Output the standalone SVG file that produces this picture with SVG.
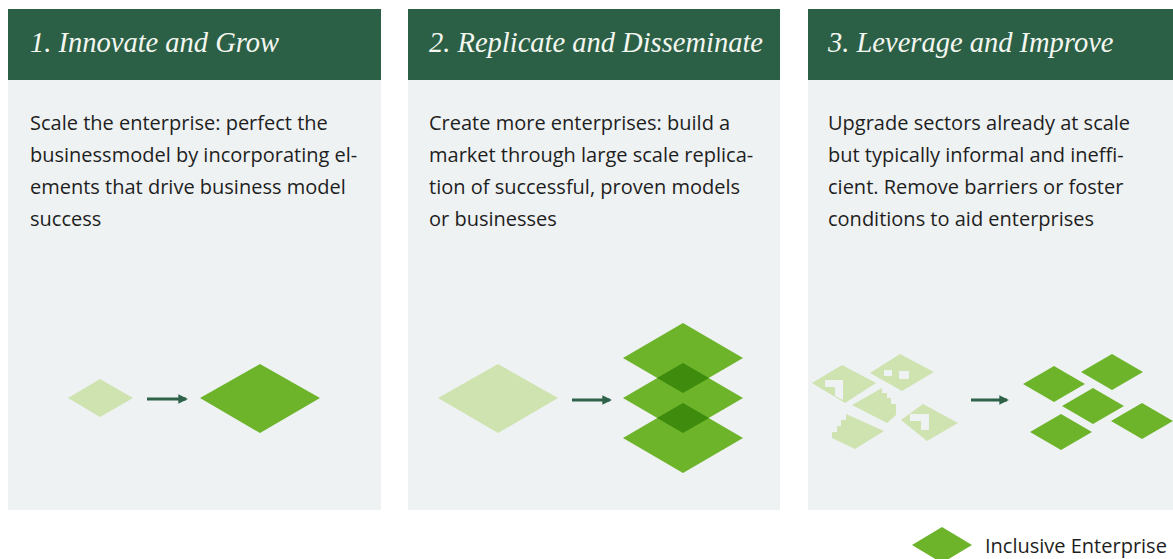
<svg xmlns="http://www.w3.org/2000/svg" width="1173" height="559" viewBox="0 0 1173 559">
<defs>
<style>
.body{fill:#eff2f3}
.head{fill:#2b6046}
.title{font-family:"Liberation Serif",serif;font-style:italic;font-size:28.5px;fill:#f4f6f0}
.txt{font-family:"Open Sans","Liberation Sans",sans-serif;font-size:20px;fill:#1e1e1e}
.light{fill:#cfe3b1}
.green{fill:#6db42b}
.dark{fill:#3e8b0d}
.hole{fill:#eff2f3}
.arrow{stroke:#2f6248;stroke-width:3;fill:none}
</style>
<marker id="ah" viewBox="0 0 10 10" refX="8" refY="5" markerWidth="3.2" markerHeight="3.2" orient="auto" markerUnits="strokeWidth">
<path d="M0,0 L10,5 L0,10 Z" fill="#2f6248"/>
</marker>
</defs>
<rect width="1173" height="559" fill="#ffffff"/>

<g id="panel1">
<rect class="body" x="8" y="80" width="373" height="430"/>
<rect class="head" x="8" y="9" width="373" height="71"/>
<text class="title" x="30" y="52">1. Innovate and Grow</text>
<text class="txt" x="30" y="130">Scale the enterprise: perfect the</text>
<text class="txt" x="30" y="162">businessmodel by incorporating el-</text>
<text class="txt" x="30" y="194">ements that drive business model</text>
<text class="txt" x="30" y="226">success</text>
<polygon class="light" points="68,398 100,379 133,398 100,417"/>
<polygon class="green" points="200,398 260,364 320,398 260,433"/>
</g>

<g id="panel2">
<rect class="body" x="408" y="80" width="372" height="430"/>
<rect class="head" x="408" y="9" width="372" height="71"/>
<text class="title" x="429" y="52">2. Replicate and Disseminate</text>
<text class="txt" x="429" y="130">Create more enterprises: build a</text>
<text class="txt" x="429" y="162">market through large scale replica-</text>
<text class="txt" x="429" y="194">tion of successful, proven models</text>
<text class="txt" x="429" y="226">or businesses</text>
<polygon class="light" points="438,398 498,364 558,398 498,433"/>
<polygon class="green" points="623,438 683,403 743,438 683,473"/>
<polygon class="green" points="623,398 683,363 743,398 683,433"/>
<polygon class="green" points="623,358 683,323 743,358 683,393"/>
<polygon class="dark" points="657,378 683,363 709,378 683,393"/>
<polygon class="dark" points="657,418 683,403 709,418 683,433"/>
</g>

<g id="panel3">
<rect class="body" x="808" y="80" width="365" height="430"/>
<rect class="head" x="808" y="9" width="365" height="71"/>
<text class="title" x="828" y="52">3. Leverage and Improve</text>
<text class="txt" x="828" y="130">Upgrade sectors already at scale</text>
<text class="txt" x="828" y="162">but typically informal and ineffi-</text>
<text class="txt" x="828" y="194">cient. Remove barriers or foster</text>
<text class="txt" x="828" y="226">conditions to aid enterprises</text>
<g id="fragments">
<polygon class="light" points="812,383 842,365 876,383 845,403"/>
<polygon class="hole" points="825,380 843,380 843,400 835,396 835,387 825,387"/>
<polygon class="light" points="870,373 900,354 934,372 902,391"/>
<rect class="hole" x="884" y="370" width="8" height="6"/>
<rect class="hole" x="899" y="371" width="10" height="8"/>
<polygon class="light" points="852,405 882,388 882,393 887,393 887,398 891,398 891,404 896,404 896,415 887,423"/>
<polygon class="light" points="846,414 884,431 855,449 832,438 832,432 837,432 837,426 841,426 841,420 846,420"/>
<polygon class="light" points="901,420 923,404 958,423 927,441"/>
<polygon class="hole" points="910,414 929,414 929,430 921,430 921,421 910,421"/>
</g>
<g id="enterprises">
<polygon class="green" points="1023,384 1054,366 1085,384 1054,402"/>
<polygon class="green" points="1081,372 1112,354 1143,372 1112,390"/>
<polygon class="green" points="1062,406 1093,388 1124,406 1093,424"/>
<polygon class="green" points="1030,432 1061,414 1092,432 1061,450"/>
<polygon class="green" points="1111,421 1142,403 1173,421 1142,439"/>
</g>
</g>

<g id="connectors">
<line class="arrow" x1="147" y1="399" x2="186" y2="399" marker-end="url(#ah)"/>
<line class="arrow" x1="572" y1="400" x2="610" y2="400" marker-end="url(#ah)"/>
<line class="arrow" x1="971" y1="400" x2="1007" y2="400" marker-end="url(#ah)"/>
</g>

<g id="legend">
<polygon class="green" points="912,545 942,527 972,545 942,563"/>
<text class="txt" x="985" y="553">Inclusive Enterprise</text>
</g>
</svg>
